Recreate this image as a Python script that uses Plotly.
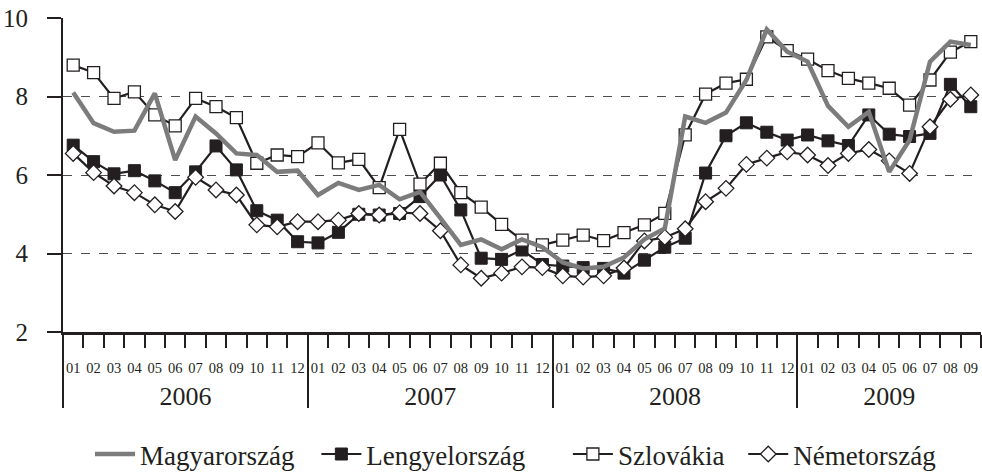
import plotly.graph_objects as go

# Monthly series, January 2006 – September 2009
years = ["2006", "2007", "2008", "2009"]
months_per_year = [12, 12, 12, 9]
month_labels = ["01", "02", "03", "04", "05", "06", "07", "08", "09", "10", "11", "12"]

magyarorszag = [
    8.10, 7.32, 7.10, 7.13, 8.08, 6.38, 7.49, 7.06, 6.55, 6.51, 6.08, 6.11,
    5.49, 5.80, 5.62, 5.75, 5.38, 5.57, 4.90, 4.22, 4.36, 4.11, 4.36, 4.16,
    3.77, 3.62, 3.66, 3.90, 4.36, 4.64, 7.49, 7.33, 7.59, 8.42, 9.71, 9.14,
    8.89, 7.76, 7.23, 7.61, 6.08, 6.89, 8.89, 9.40, 9.31,
]
lengyelorszag = [
    6.76, 6.34, 6.03, 6.11, 5.85, 5.55, 6.08, 6.74, 6.13, 5.09, 4.85, 4.30,
    4.27, 4.54, 5.00, 4.98, 5.02, 5.45, 6.00, 5.11, 3.88, 3.85, 4.09, 3.72,
    3.68, 3.64, 3.62, 3.50, 3.83, 4.16, 4.39, 6.05, 7.00, 7.33, 7.09, 6.89,
    7.02, 6.87, 6.75, 7.53, 7.04, 6.98, 7.06, 8.31, 7.74,
]
szlovakia = [
    8.80, 8.61, 7.95, 8.12, 7.53, 7.25, 7.95, 7.74, 7.46, 6.30, 6.51, 6.47,
    6.82, 6.31, 6.40, 5.68, 7.16, 5.77, 6.30, 5.55, 5.18, 4.74, 4.34, 4.22,
    4.34, 4.47, 4.33, 4.53, 4.73, 5.02, 7.02, 8.06, 8.34, 8.44, 9.52, 9.17,
    8.95, 8.66, 8.46, 8.34, 8.21, 7.78, 8.42, 9.13, 9.40,
]
nemetorszag = [
    6.55, 6.06, 5.72, 5.55, 5.24, 5.07, 5.94, 5.62, 5.49, 4.73, 4.68, 4.81,
    4.81, 4.85, 5.02, 4.98, 5.04, 5.02, 4.58, 3.71, 3.37, 3.50, 3.66, 3.64,
    3.43, 3.40, 3.43, 3.63, 4.32, 4.41, 4.63, 5.32, 5.66, 6.27, 6.43, 6.59,
    6.51, 6.24, 6.55, 6.65, 6.36, 6.04, 7.23, 7.93, 8.04,
]
y_ticks = [2, 4, 6, 8, 10]

# Category positions: each month occupies one unit, points sit at its centre
n = sum(months_per_year)
x = [i + 0.5 for i in range(n)]
month_text = [month_labels[m] for cnt in months_per_year for m in range(cnt)]
year_starts = []
year_centres = []
pos = 0
for cnt in months_per_year:
    year_starts.append(pos)
    year_centres.append(pos + cnt / 2)
    pos += cnt

FONT = "Liberation Serif"
INK = "#231f20"
GREY = "#7c7c7c"

fig = go.Figure()

fig.add_trace(go.Scatter(
    x=x, y=lengyelorszag, name="Lengyelország", mode="lines+markers",
    line=dict(color=INK, width=2.2),
    marker=dict(symbol="square", size=12, color=INK, line=dict(color=INK, width=1)),
    legend="legend2",
))
fig.add_trace(go.Scatter(
    x=x, y=szlovakia, name="Szlovákia", mode="lines+markers",
    line=dict(color=INK, width=2.2),
    marker=dict(symbol="square", size=12, color="white", line=dict(color=INK, width=1.3)),
    legend="legend3",
))
fig.add_trace(go.Scatter(
    x=x, y=nemetorszag, name="Németország", mode="lines+markers",
    line=dict(color=INK, width=2.2),
    marker=dict(symbol="diamond", size=12, color="white", line=dict(color=INK, width=1.3)),
    legend="legend4",
))
fig.add_trace(go.Scatter(
    x=x, y=magyarorszag, name="Magyarország", mode="lines",
    line=dict(color=GREY, width=4.5),
    legend="legend",
))

# helper traces to activate the overlay axes (no visible marks)
for ax in ["x2", "x3", "x4"]:
    fig.add_trace(go.Scatter(x=[0, n], y=[None, None], xaxis=ax, yaxis="y",
                             showlegend=False, hoverinfo="skip"))

rng = [0, n]


def legend_at(xpos):
    return dict(orientation="h", x=xpos, xanchor="left", y=-0.39, yanchor="middle",
                font=dict(family=FONT, size=27, color=INK),
                bgcolor="rgba(0,0,0,0)", itemwidth=40)


fig.update_layout(
    width=982, height=473,
    margin=dict(l=63, r=1, t=18, b=141, autoexpand=False),
    paper_bgcolor="white", plot_bgcolor="white",
    font=dict(family=FONT, color=INK, size=26),
    showlegend=True,
    legend=legend_at(0.0294),
    legend2=legend_at(0.2760),
    legend3=legend_at(0.5500),
    legend4=legend_at(0.7410),
    xaxis=dict(
        range=rng, showgrid=False, zeroline=False,
        showline=True, linecolor=INK, linewidth=2.5,
        tickmode="array", tickvals=list(range(1, n + 1)),
        ticks="outside", ticklen=13, tickwidth=2, tickcolor=INK,
        showticklabels=False,
    ),
    xaxis2=dict(
        range=rng, overlaying="x", anchor="y", side="bottom",
        showgrid=False, zeroline=False, showline=False,
        tickmode="array", tickvals=x, ticktext=month_text,
        ticks="outside", ticklen=23, tickcolor="rgba(0,0,0,0)",
        tickfont=dict(family=FONT, size=14.5, color=INK),
    ),
    xaxis3=dict(
        range=rng, overlaying="x", anchor="y", side="bottom",
        showgrid=False, zeroline=False, showline=False,
        tickmode="array", tickvals=year_centres, ticktext=years,
        ticks="outside", ticklen=41, tickcolor="rgba(0,0,0,0)",
        tickfont=dict(family=FONT, size=26, color=INK),
    ),
    xaxis4=dict(
        range=rng, overlaying="x", anchor="y", side="bottom",
        showgrid=False, zeroline=False, showline=False,
        tickmode="array", tickvals=year_starts,
        ticks="outside", ticklen=75, tickwidth=2, tickcolor=INK,
        showticklabels=False,
    ),
    yaxis=dict(
        range=[2, 10], tickmode="array", tickvals=y_ticks,
        showline=True, linecolor=INK, linewidth=2,
        ticks="outside", ticklen=14, tickwidth=2, tickcolor=INK,
        ticklabelstandoff=14,
        showgrid=True, gridcolor="#4d4d4d", gridwidth=1.3, griddash="dash",
        zeroline=False,
        tickfont=dict(family=FONT, size=25, color=INK),
    ),
)

fig.write_html("out.html")
